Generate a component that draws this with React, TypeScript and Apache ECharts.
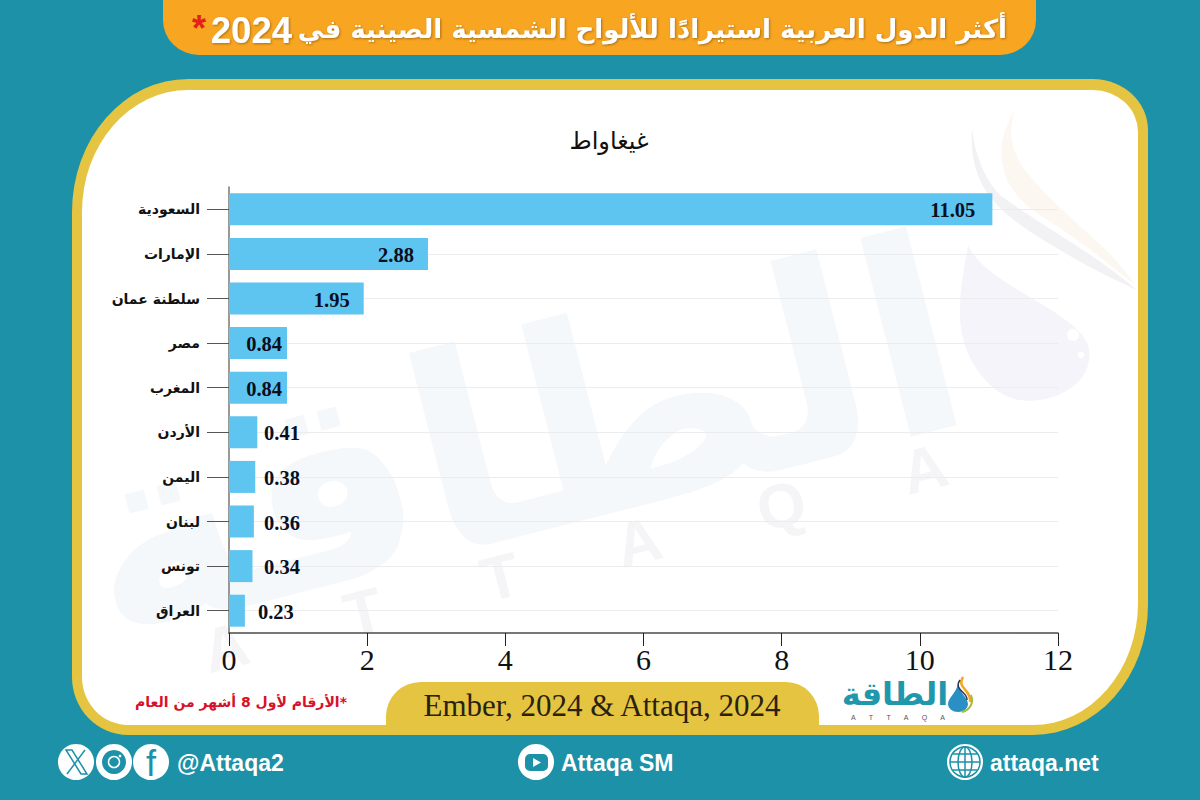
import React, { useEffect, useRef } from "react";
import * as echarts from "echarts";

const categories = ["السعودية", "الإمارات", "سلطنة عمان", "مصر", "المغرب", "الأردن", "اليمن", "لبنان", "تونس", "العراق"];
const values = [11.05, 2.88, 1.95, 0.84, 0.84, 0.41, 0.38, 0.36, 0.34, 0.23];
const xTicks = { min: 0, max: 12, interval: 2 };
const titleText = "أكثر الدول العربية استيرادًا للألواح الشمسية الصينية في";
const titleYear = "2024";
const unitText = "غيغاواط";
const noteText = "\u200F*الأرقام لأول 8 أشهر من العام";
const sourceText = "Ember, 2024 & Attaqa, 2024";

const TEAL = "#1c91a8";
const GOLD = "#e4c440";
const ORANGE = "#f8a522";
const SERIF = "'Liberation Serif', serif";
const ARABIC = "'DejaVu Sans', sans-serif";
const SANS = "'Liberation Sans', sans-serif";

const framePath = "M188 79 H1093 A55 51 0 0 1 1148 130 V605 A115 130 0 0 1 1033 735 H128 A56 58 0 0 1 72 677 V212 A116 133 0 0 1 188 79 Z";
const panelPath = "M188 90 H1093 A45 42 0 0 1 1138 132 V603 A105 122 0 0 1 1033 725 H128 A46 48 0 0 1 82 677 V212 A106 122 0 0 1 188 90 Z";
const bannerPath = "M163 0 H1036 V20 A36 35 0 0 1 1000 55 H199 A36 35 0 0 1 163 20 Z";
const sourcePath = "M386 735 V716 A35 34 0 0 1 421 682 H786 A33 34 0 0 1 819 716 V735 Z";
const dropPath = "M0 0 C-5 30 -25 45 -25 65 A25 25 0 0 0 25 65 C25 45 5 30 0 0 Z";
const wmDropPath = "M968 245 C985 285 1075 310 1088 345 C1098 385 1050 405 1020 400 C985 395 958 350 960 310 C960 285 965 265 968 245 Z";
const wmSwooshPath = "M972 128 C968 190 1000 215 1060 250 C1090 268 1115 280 1137 290 C1090 250 1040 225 1000 195 C985 180 975 155 972 128 Z";
const wmWarmPath = "M1015 110 C990 150 1000 190 1040 215 C1080 240 1110 265 1135 285 C1110 245 1060 215 1025 170 C1010 150 1008 130 1015 110 Z";

function reg(name: string, d: string) {
  echarts.graphic.registerShape(name, echarts.graphic.extendPath(d, {}) as any);
}
reg("panelShape", panelPath);
reg("frameShape", framePath);
reg("bannerShape", bannerPath);
reg("sourceShape", sourcePath);
reg("dropShape", dropPath);
reg("wmDrop", wmDropPath);
reg("wmSwoosh", wmSwooshPath);
reg("wmWarm", wmWarmPath);

const iconCircle = (cx: number, cy: number, r = 18) => ({
  type: "circle", z: 1, shape: { cx, cy, r }, style: { fill: "#ffffff" },
});
const footerText = (x: number, y: number, text: string) => ({
  type: "text", z: 2, x, y,
  style: { text, fill: "#ffffff", font: `bold 23px ${SANS}`, textAlign: "left", textVerticalAlign: "middle" },
});

export default function App() {
  const ref = useRef<HTMLDivElement>(null);
  useEffect(() => {
    const chart = echarts.init(ref.current!, null, { renderer: "svg" });
    const seriesData = values.map((v) => ({
      value: v,
      label: v > 0.5
        ? { position: "insideRight", distance: v > 10 ? 17 : v > 1 ? 14 : 5 }
        : { position: "right", distance: v > 0.3 ? 264 - (229 + v * 69.08) : 13 },
    }));
    chart.setOption({
      animation: false,
      backgroundColor: TEAL,
      textStyle: { fontFamily: SERIF },
      grid: { left: 229, right: 142, top: 187, bottom: 167, containLabel: false },
      xAxis: {
        type: "value", ...xTicks,
        axisLine: { show: true, onZero: false, lineStyle: { color: "#4a4a4a", width: 1.5 } },
        axisTick: { show: true, length: 13, lineStyle: { color: "#222", width: 1 } },
        splitLine: { show: false },
        axisLabel: { color: "#111", fontFamily: SERIF, fontSize: 30, margin: 11 },
      },
      yAxis: {
        type: "category", inverse: true, data: categories,
        axisLine: { show: true, lineStyle: { color: "#777", width: 1.5 } },
        axisTick: { show: true, alignWithLabel: true, length: 22, lineStyle: { color: "#555", width: 1 } },
        splitLine: { show: false },
        axisLabel: { color: "#111", fontFamily: ARABIC, fontWeight: "bold", fontSize: 14, margin: 29 },
      },
      series: [{
        type: "bar", data: seriesData, barWidth: 32, z: 3,
        itemStyle: { color: "#5ec4f0" },
        label: { show: true, offset: [0, 1], formatter: (p: any) => p.value.toFixed(2), color: "#0a0f1e", fontFamily: SERIF, fontWeight: "bold", fontSize: 20.5 },
        markLine: {
          silent: true, symbol: "none", z: 1, animation: false,
          label: { show: false },
          lineStyle: { color: "#ebecee", width: 1, type: "solid" },
          data: categories.map((c) => ({ yAxis: c })),
        },
      }],
      graphic: [
        { type: "frameShape", z: -20, style: { fill: GOLD } },
        { type: "panelShape", z: -19, style: { fill: "#ffffff" } },
        { type: "wmWarm", z: -18, style: { fill: "#fdf7f2" } },
        { type: "wmSwoosh", z: -18, style: { fill: "#f2f2f4" } },
        { type: "wmDrop", z: -18, style: { fill: "#f4f4fa" } },
        { type: "circle", z: -17, shape: { cx: 1073, cy: 335, r: 6 }, style: { fill: "#ffffff" } },
        { type: "circle", z: -17, shape: { cx: 1081, cy: 355, r: 3.5 }, style: { fill: "#ffffff" } },
        { type: "text", z: -18, x: 520, y: 440, rotation: 0.25,
          style: { text: "الطاقة", fill: "#f4f8fb", font: `bold 270px ${ARABIC}`, textAlign: "center", textVerticalAlign: "middle" } },
        { type: "text", z: -18, x: 575, y: 558, rotation: 0.25,
          style: { text: "A      T      T      A      Q      A", fill: "#f5f5f7", font: `bold 62px ${SANS}`, textAlign: "center", textVerticalAlign: "middle" } },
        { type: "bannerShape", z: 1, style: { fill: ORANGE } },
        { type: "text", z: 2, x: 1007, y: 29, style: { text: titleText, fill: "#ffffff", font: `bold 26px ${ARABIC}`, textAlign: "right", textVerticalAlign: "middle", textShadowColor: "rgba(90,60,0,0.5)", textShadowBlur: 2, textShadowOffsetX: 1, textShadowOffsetY: 1 } },
        { type: "text", z: 2, x: 292, y: 30, style: { text: titleYear, fill: "#ffffff", font: `bold 36.5px ${SANS}`, textAlign: "right", textVerticalAlign: "middle", textShadowColor: "rgba(90,60,0,0.5)", textShadowBlur: 2, textShadowOffsetX: 1, textShadowOffsetY: 1 } },
        { type: "text", z: 3, x: 192, y: 28, style: { text: "*", fill: "#e32119", font: `bold 36px ${SANS}`, textAlign: "left", textVerticalAlign: "middle" } },
        { type: "text", z: 2, x: 609, y: 141, style: { text: unitText, fill: "#111", font: `24px ${ARABIC}`, textAlign: "center", textVerticalAlign: "middle" } },
        { type: "text", z: 2, x: 241, y: 702, style: { text: noteText, fill: "#d8112b", font: `bold 14px ${ARABIC}`, textAlign: "center", textVerticalAlign: "middle" } },
        { type: "sourceShape", z: 1, style: { fill: GOLD } },
        { type: "text", z: 2, x: 602, y: 705, style: { text: sourceText, fill: "#2a2210", font: `31px ${SERIF}`, textAlign: "center", textVerticalAlign: "middle" } },
        { type: "text", z: 2, x: 895, y: 694, style: { text: "الطاقة", fill: "#1f97ad", font: `bold 32px ${ARABIC}`, textAlign: "center", textVerticalAlign: "middle" } },
        { type: "text", z: 2, x: 898, y: 717, style: { text: "A       T       T       A       Q       A", fill: "#555", font: `7px ${SANS}`, textAlign: "center", textVerticalAlign: "middle" } },
        { type: "dropShape", z: 2, x: 958, y: 684, scaleX: 0.4, scaleY: 0.31, style: { fill: "#2a8fc4" } },
        { type: "bezierCurve", z: 2, shape: { x1: 963, y1: 677, x2: 970, y2: 702, cpx1: 956, cpy1: 688, cpx2: 972, cpy2: 690 }, style: { fill: "none", stroke: ORANGE, lineWidth: 2.5 } },
        { type: "bezierCurve", z: 2, shape: { x1: 960, y1: 680, x2: 967, y2: 700, cpx1: 953, cpy1: 690, cpx2: 968, cpy2: 692 }, style: { fill: "none", stroke: "#2b3a55", lineWidth: 1.5 } },
        { type: "bezierCurve", z: 2, shape: { x1: 971, y1: 695, x2: 962, y2: 712, cpx1: 974, cpy1: 703, cpx2: 970, cpy2: 710 }, style: { fill: "none", stroke: "#9cbf3c", lineWidth: 2 } },
        iconCircle(76, 762), iconCircle(114, 762), iconCircle(151, 762),
        { type: "polygon", z: 2, shape: { points: [[66, 750], [72, 750], [87, 774], [81, 774]] }, style: { fill: "none", stroke: TEAL, lineWidth: 1.5 } },
        { type: "line", z: 2, shape: { x1: 85, y1: 750, x2: 67, y2: 774 }, style: { stroke: TEAL, lineWidth: 1.5 } },
        { type: "circle", z: 2, shape: { cx: 114, cy: 762, r: 12 }, style: { fill: TEAL } },
        { type: "circle", z: 3, shape: { cx: 114, cy: 762, r: 5.5 }, style: { fill: "none", stroke: "#ffffff", lineWidth: 1.5 } },
        { type: "circle", z: 3, shape: { cx: 120, cy: 756, r: 1.3 }, style: { fill: "#ffffff" } },
        { type: "text", z: 2, x: 151, y: 763, style: { text: "f", fill: TEAL, font: `36px ${SANS}`, textAlign: "center", textVerticalAlign: "middle" } },
        footerText(177, 763, "@Attaqa2"),
        iconCircle(536, 762),
        { type: "rect", z: 2, shape: { x: 525, y: 754, width: 23, height: 17, r: 5 }, style: { fill: TEAL } },
        { type: "polygon", z: 3, shape: { points: [[533, 758], [533, 767], [541, 762.5]] }, style: { fill: "#ffffff" } },
        footerText(561, 763, "Attaqa SM"),
        iconCircle(965, 762),
        { type: "circle", z: 2, shape: { cx: 965, cy: 762, r: 15 }, style: { fill: "none", stroke: TEAL, lineWidth: 1.5 } },
        { type: "ellipse", z: 2, shape: { cx: 965, cy: 762, rx: 7, ry: 15 }, style: { fill: "none", stroke: TEAL, lineWidth: 1.5 } },
        { type: "line", z: 2, shape: { x1: 950, y1: 762, x2: 980, y2: 762 }, style: { stroke: TEAL, lineWidth: 1.5 } },
        { type: "line", z: 2, shape: { x1: 953, y1: 754, x2: 977, y2: 754 }, style: { stroke: TEAL, lineWidth: 1.5 } },
        { type: "line", z: 2, shape: { x1: 953, y1: 770, x2: 977, y2: 770 }, style: { stroke: TEAL, lineWidth: 1.5 } },
        { type: "line", z: 2, shape: { x1: 965, y1: 747, x2: 965, y2: 777 }, style: { stroke: TEAL, lineWidth: 1.5 } },
        footerText(990, 763, "attaqa.net"),
      ],
    });
    return () => chart.dispose();
  }, []);
  return <div ref={ref} style={{ position: "absolute", left: 0, top: 0, width: 1200, height: 800 }} />;
}
